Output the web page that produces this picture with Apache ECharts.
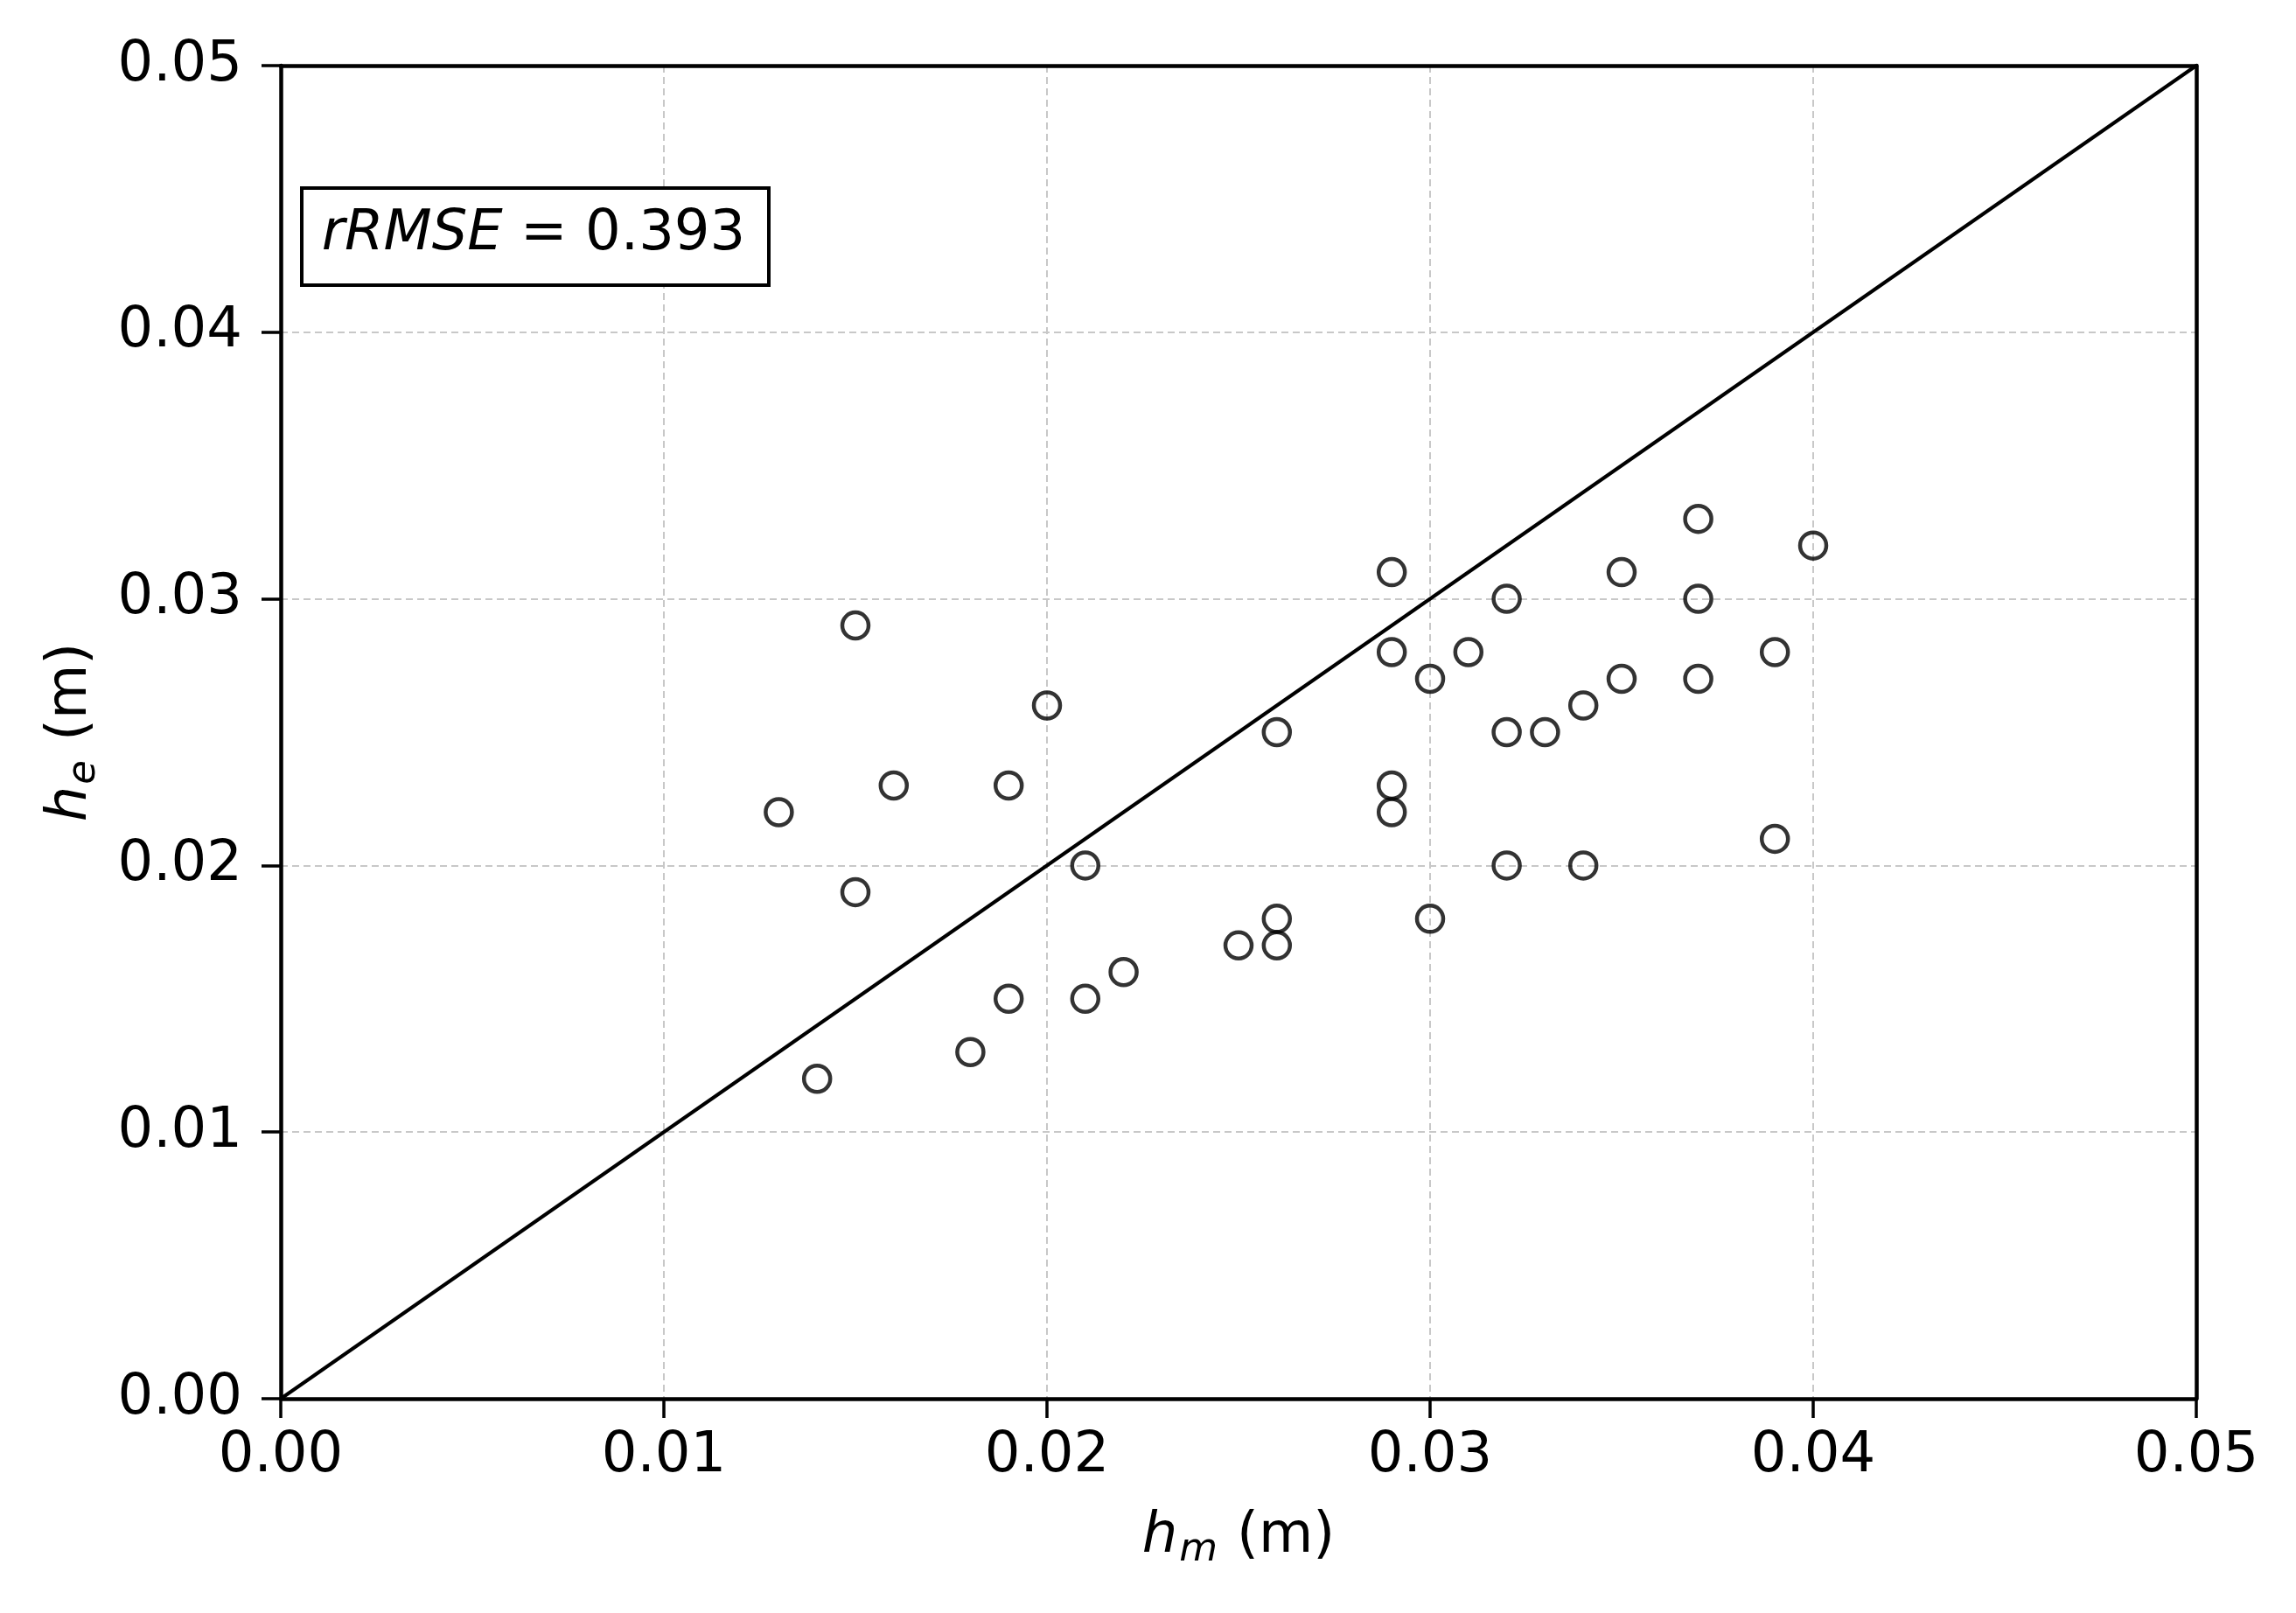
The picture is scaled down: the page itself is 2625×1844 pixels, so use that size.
<!DOCTYPE html>
<html>
<head>
<meta charset="utf-8">
<script src="https://cdn.jsdelivr.net/npm/echarts@6/dist/echarts.min.js"></script>
<style>
html,body{margin:0;padding:0;background:#fff;}
#chart{width:2625px;height:1844px;}
</style>
</head>
<body>
<div id="chart"></div>
<script>
// Measured water height h_m (m) and estimated h_e (m)
const hm = [0.013, 0.014, 0.015, 0.015, 0.016, 0.018, 0.019, 0.019, 0.020, 0.021,
            0.021, 0.022, 0.025, 0.026, 0.026, 0.026, 0.029, 0.029, 0.029, 0.029,
            0.030, 0.030, 0.031, 0.032, 0.032, 0.032, 0.033, 0.034, 0.034, 0.035,
            0.035, 0.037, 0.037, 0.037, 0.039, 0.039, 0.040];
const he = [0.022, 0.012, 0.029, 0.019, 0.023, 0.013, 0.023, 0.015, 0.026, 0.020,
            0.015, 0.016, 0.017, 0.025, 0.018, 0.017, 0.031, 0.028, 0.023, 0.022,
            0.027, 0.018, 0.028, 0.030, 0.025, 0.020, 0.025, 0.026, 0.020, 0.031,
            0.027, 0.033, 0.030, 0.027, 0.028, 0.021, 0.032];
const identityLine = [[0, 0], [0.05, 0.05]];
const axisTicks = [0, 0.01, 0.02, 0.03, 0.04, 0.05];
const rrmseValue = '0.393';

const FONT = 'DejaVu Sans';
const points = hm.map((x, i) => [x, he[i]]);

const nameRich = {
  i: {fontFamily: FONT, fontSize: 64, fontStyle: 'italic', color: '#000', lineHeight: 80, verticalAlign: 'middle'},
  s: {fontFamily: FONT, fontSize: 45, fontStyle: 'italic', color: '#000', lineHeight: 56, padding: [30, 22, 0, 2], verticalAlign: 'middle'},
  n: {fontFamily: FONT, fontSize: 64, color: '#000', lineHeight: 80, verticalAlign: 'middle'}
};

const LW = 4.5;
function axisCommon() {
  return {
    type: 'value', min: axisTicks[0], max: axisTicks[axisTicks.length - 1], interval: 0.01,
    axisLine: {show: true, onZero: false, lineStyle: {color: '#000', width: LW}},
    axisTick: {show: true, inside: false, length: 22, lineStyle: {color: '#000', width: 3.5}},
    splitLine: {show: true, showMinLine: false, showMaxLine: false,
      lineStyle: {color: '#c8c8c8', width: 2, type: [8, 5]}},
    axisLabel: {fontFamily: FONT, fontSize: 64, color: '#000',
      formatter: v => v.toFixed(2)},
    nameLocation: 'middle'
  };
}
function frameAxis(pos) {
  return {
    type: 'value', min: axisTicks[0], max: axisTicks[axisTicks.length - 1], interval: 0.01,
    position: pos,
    axisLine: {show: true, onZero: false, lineStyle: {color: '#000', width: LW}},
    axisTick: {show: false}, axisLabel: {show: false}, splitLine: {show: false}
  };
}

const chart = echarts.init(document.getElementById('chart'), null, {renderer: 'canvas'});
const xAxis = Object.assign(axisCommon(), {
  name: '{i|h}{s|m}{n|(m)}', nameGap: 118,
  nameTextStyle: {rich: nameRich}
});
xAxis.axisLabel.margin = 34;
const yAxis = Object.assign(axisCommon(), {
  name: '{i|h}{s|e}{n|(m)}', nameGap: 200,
  nameTextStyle: {rich: nameRich}
});
yAxis.axisLabel.margin = 44;

chart.setOption({
  backgroundColor: '#fff',
  animation: false,
  grid: {left: 321, right: 114, top: 75, bottom: 245, show: false},
  xAxis: [xAxis, frameAxis('top')],
  yAxis: [yAxis, frameAxis('right')],
  series: [
    {
      type: 'line', data: identityLine, symbol: 'none',
      lineStyle: {color: '#000', width: 4}, z: 2, silent: true
    },
    {
      type: 'scatter', data: points, symbol: 'circle', symbolSize: 30,
      itemStyle: {color: 'transparent', borderColor: '#000', borderWidth: 4.5}, z: 3
    }
  ],
  graphic: [
    {
      type: 'rect', left: 343, top: 213, z: 10,
      shape: {width: 534, height: 111},
      style: {fill: '#fff', stroke: '#000', lineWidth: 4}
    },
    {
      type: 'text', x: 610, y: 268, z: 11,
      style: {
        text: '{i|rRMSE}{n| = ' + rrmseValue + '}',
        align: 'center', verticalAlign: 'middle',
        rich: {
          i: {fontFamily: FONT, fontSize: 64, fontStyle: 'italic', fill: '#000'},
          n: {fontFamily: FONT, fontSize: 64, fill: '#000'}
        }
      }
    }
  ]
});
</script>
</body>
</html>
